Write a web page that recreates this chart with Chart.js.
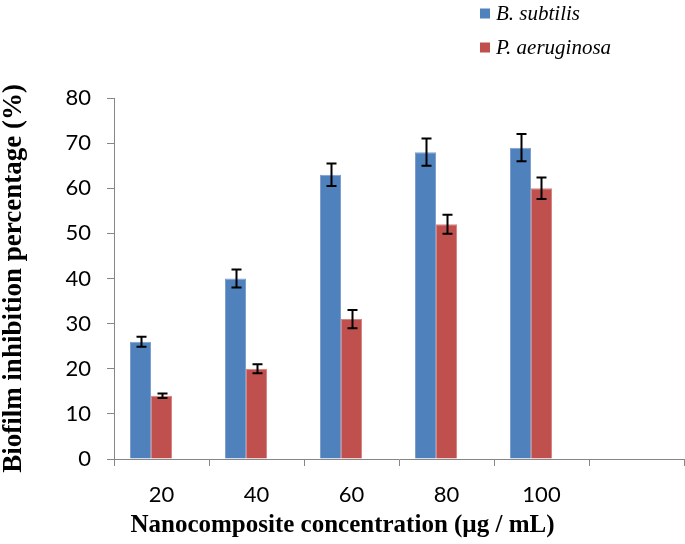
<!DOCTYPE html>
<html>
<head>
<meta charset="utf-8">
<script src="https://cdn.jsdelivr.net/npm/chart.js@4"></script>
<style>
  html, body { margin: 0; padding: 0; background: #fff; }
  #wrap { width: 685px; height: 544px; }
</style>
</head>
<body>
<div id="wrap"><canvas id="chart" width="685" height="544"></canvas></div>
<script>
// data
const concentrations = ["20", "40", "60", "80", "100", ""];
const subtilis = [26, 40, 63, 68, 69];
const subtilisErr = [1.1, 2, 2.5, 3, 3];
const aeruginosa = [14, 20, 31, 52, 60];
const aeruginosaErr = [0.5, 1, 2, 2.1, 2.4];
const yTicks = [0, 10, 20, 30, 40, 50, 60, 70, 80];
const xTitle = "Nanocomposite concentration (µg / mL)";

const blue = "#4F81BD";
const red = "#C0504D";

// error bars drawn on top of each bar
const errorBars = {
  id: "errorBars",
  afterDatasetsDraw(chart) {
    const ctx = chart.ctx;
    const y = chart.scales.y;
    ctx.save();
    ctx.strokeStyle = "#000";
    ctx.lineWidth = 2;
    chart.data.datasets.forEach((ds, i) => {
      if (!ds.errors) return;
      const meta = chart.getDatasetMeta(i);
      meta.data.forEach((bar, j) => {
        if (ds.data[j] == null) return;
        const top = y.getPixelForValue(ds.data[j] + ds.errors[j]);
        const bot = y.getPixelForValue(ds.data[j] - ds.errors[j]);
        const x = Math.round(bar.x) + 0.5;
        ctx.beginPath();
        ctx.moveTo(x, top); ctx.lineTo(x, bot);
        ctx.moveTo(x - 5, top); ctx.lineTo(x + 5, top);
        ctx.moveTo(x - 5, bot); ctx.lineTo(x + 5, bot);
        ctx.stroke();
      });
    });
    ctx.restore();
  }
};

// vertical legend top right + x title centred on the whole figure
const extras = {
  id: "extras",
  afterDraw(chart) {
    const ctx = chart.ctx;
    ctx.save();
    ctx.font = "italic 21px 'Liberation Serif'";
    ctx.textBaseline = "middle";
    let yPos = 13.5;
    chart.data.datasets.forEach(ds => {
      if (!ds.label) return;
      ctx.fillStyle = ds.backgroundColor;
      ctx.fillRect(480, yPos - 5, 10, 10);
      ctx.fillStyle = "#000";
      ctx.fillText(ds.label, 496, yPos + 1);
      yPos += 34;
    });
    ctx.font = "bold 25px 'Liberation Serif'";
    ctx.textAlign = "center";
    ctx.textBaseline = "alphabetic";
    ctx.fillText(xTitle, chart.width / 2, 532);
    ctx.restore();
  }
};

new Chart(document.getElementById("chart"), {
  type: "bar",
  data: {
    labels: concentrations,
    datasets: [
      { label: "B. subtilis", data: subtilis, errors: subtilisErr, backgroundColor: blue, borderColor: "#7E9FCE", borderWidth: 1 },
      { label: "P. aeruginosa", data: aeruginosa, errors: aeruginosaErr, backgroundColor: red, borderColor: "#D68583", borderWidth: 1 },
      { label: "", data: [], backgroundColor: "rgba(0,0,0,0)" }
    ]
  },
  options: {
    responsive: false,
    animation: false,
    layout: { padding: { top: 98, right: 1, left: 0, bottom: 0 } },
    datasets: { bar: { categoryPercentage: 0.663, barPercentage: 1 } },
    plugins: { legend: { display: false }, tooltip: { enabled: false } },
    scales: {
      x: {
        grid: { offset: true, drawOnChartArea: false, drawTicks: true, tickLength: 7, color: "#868686" },
        border: { color: "#868686", width: 1 },
        ticks: { color: "#000", font: { family: "Lato", size: 22 }, padding: 16 },
        afterFit(scale) { scale.height = 85; }
      },
      y: {
        min: 0, max: 80,
        afterBuildTicks(scale) { scale.ticks = yTicks.map(v => ({ value: v })); },
        grid: { drawOnChartArea: false, drawTicks: true, tickLength: 7, color: "#868686" },
        border: { color: "#868686", width: 1 },
        ticks: { color: "#000", font: { family: "Lato", size: 22 }, padding: 16 },
        title: { display: true, text: "Biofilm inhibition percentage (%)", color: "#000",
                 font: { family: "Liberation Serif", size: 27, weight: "bold" }, padding: { top: -2, bottom: 0 } },
        afterFit(scale) { scale.width = 114; }
      }
    }
  },
  plugins: [errorBars, extras]
});
</script>
</body>
</html>
